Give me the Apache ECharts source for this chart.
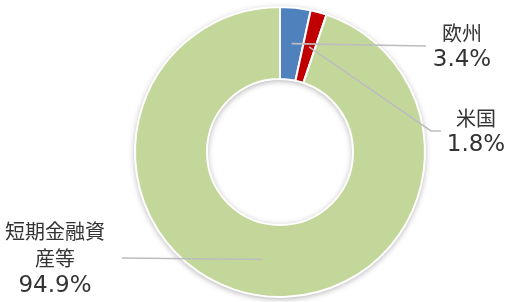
<!DOCTYPE html>
<html>
<head>
<meta charset="utf-8">
<script src="https://cdn.jsdelivr.net/npm/echarts@6/dist/echarts.min.js"></script>
<style>
html, body { margin: 0; padding: 0; background: #fff; }
#chart { width: 506px; height: 302px; }
</style>
</head>
<body>
<div id="chart"></div>
<script>
var names = ['欧州', '米国', '短期金融資産等']
var values = [3.4, 1.8, 94.9]
var colors = ['#4f81bd', '#c00000', '#c4d79b']

var cx = 280, cy = 152, r0 = 73, r1 = 145
// where each label sits and where its leader line ends
var labelPos = [[462, 47], [476, 132], [55, 259]]
var lineEnd = [
  [[426, 46], [426, 46]],
  [[431, 131], [441, 131]],
  [[122, 258], [122, 258]]
]

var total = values.reduce(function (a, b) { return a + b }, 0)

function lineStart(i) {
  var cum = 0
  for (var k = 0; k < i; k++) cum += values[k]
  var t = (cum + values[i] / 2) / total * Math.PI * 2
  var rm = (r0 + r1) / 2
  return [cx + rm * Math.sin(t), cy - rm * Math.cos(t)]
}

var pieData = names.map(function (n, i) {
  return { name: n, value: values[i], itemStyle: { color: colors[i] } }
})

var chart = echarts.init(document.getElementById('chart'))
chart.setOption({
  backgroundColor: '#fff',
  animation: false,
  series: [
    // white ring underneath that casts the soft shadow
    {
      type: 'pie',
      z: 1,
      silent: true,
      center: [cx, cy],
      radius: [r0, r1],
      label: { show: false },
      labelLine: { show: false },
      itemStyle: {
        color: '#fff',
        shadowBlur: 6,
        shadowOffsetY: 1.5,
        shadowColor: 'rgba(0,0,0,0.35)'
      },
      data: [{ name: 'ring', value: total }]
    },
    {
      type: 'pie',
      z: 2,
      center: [cx, cy],
      radius: [r0, r1],
      startAngle: 90,
      label: { show: false },
      labelLine: { show: false },
      itemStyle: { borderColor: '#fff', borderWidth: 2 },
      data: pieData
    },
    // same slices again, see-through, only for labels and leader lines on top
    {
      type: 'pie',
      z: 3,
      silent: true,
      center: [cx, cy],
      radius: [r0, r1],
      startAngle: 90,
      avoidLabelOverlap: false,
      itemStyle: { color: 'rgba(0,0,0,0)' },
      label: {
        show: true,
        position: 'outside',
        align: 'center',
        formatter: function (p) {
          var n = p.name
          if (n.length > 5) n = n.slice(0, 5) + '\n' + n.slice(5)
          var lines = n.split('\n').map(function (s) { return '{n|' + s + '}' })
          return lines.join('\n') + '\n{p|' + p.value.toFixed(1) + '%}'
        },
        rich: {
          n: { fontFamily: 'Noto Sans CJK JP', fontSize: 20, lineHeight: 27, color: '#333' },
          p: { fontFamily: 'DejaVu Sans', fontSize: 23, lineHeight: 28, color: '#333' }
        }
      },
      labelLine: {
        show: true,
        lineStyle: { color: '#bdbdbd', width: 1.6 }
      },
      labelLayout: function (p) {
        var i = p.dataIndex
        return {
          x: labelPos[i][0],
          y: labelPos[i][1],
          align: 'center',
          verticalAlign: 'middle',
          labelLinePoints: [lineStart(i), lineEnd[i][0], lineEnd[i][1]]
        }
      },
      data: names.map(function (n, i) { return { name: n, value: values[i] } })
    }
  ]
})
</script>
</body>
</html>
